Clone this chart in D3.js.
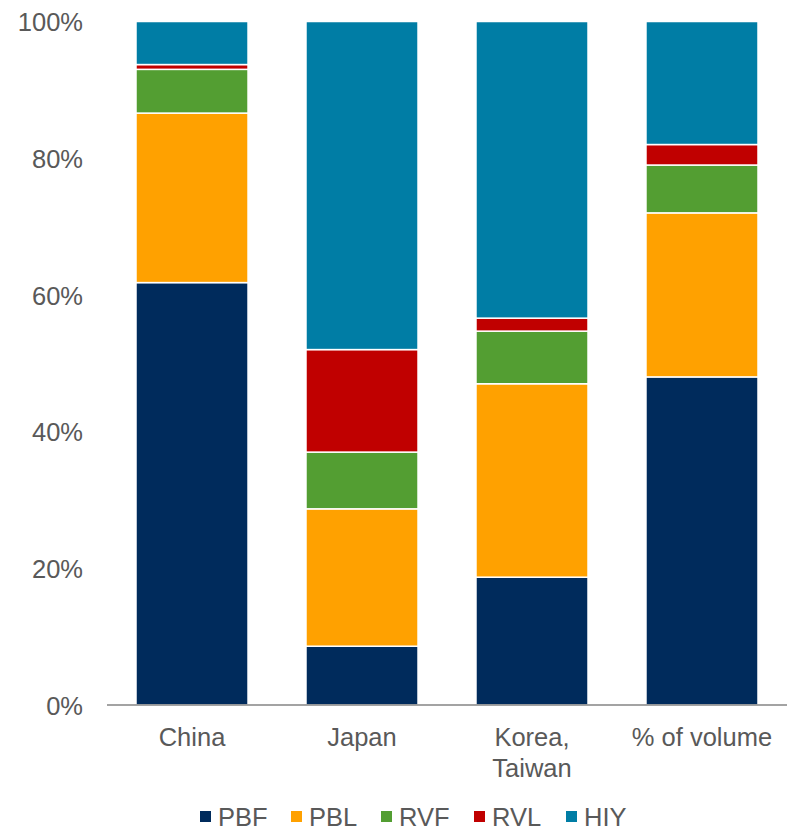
<!DOCTYPE html>
<html>
<head>
<meta charset="utf-8">
<script src="https://cdn.jsdelivr.net/npm/d3@7"></script>
<style>
  html, body { margin: 0; padding: 0; background: #fff; }
  svg { display: block; }
</style>
</head>
<body>
<svg id="chart" width="791" height="832"></svg>
<script>
// Regions on the x axis
const categories = ["China", "Japan", "Korea, Taiwan", "% of volume"];

// Share (%) of each segment per region
const PBF = [61.8, 8.6, 18.7, 48.0];
const PBL = [24.8, 20.1, 28.3, 24.0];
const RVF = [6.4, 8.3, 7.7, 7.0];
const RVL = [0.7, 15.0, 1.9, 3.0];
const HIY = [6.3, 48.0, 43.4, 18.0];

const seriesNames = ["PBF", "PBL", "RVF", "RVL", "HIY"];
const seriesColors = ["#002B5C", "#FFA100", "#539E32", "#C00000", "#007DA5"];
const yTicks = [0, 20, 40, 60, 80, 100];

const values = { PBF, PBL, RVF, RVL, HIY };
const rows = categories.map((c, i) => {
  const r = { category: c };
  seriesNames.forEach(s => { r[s] = values[s][i]; });
  return r;
});

const svg = d3.select("#chart");
const font = "'Liberation Sans', Arial, sans-serif";
const textColor = "#595959";

const x = d3.scaleBand()
  .domain(categories)
  .range([107, 787])
  .paddingInner(0.341)
  .paddingOuter(0.1706);

const y = d3.scaleLinear().domain([0, 100]).range([705, 21.5]);

const color = d3.scaleOrdinal().domain(seriesNames).range(seriesColors);

const stacked = d3.stack().keys(seriesNames)(rows);

// Stacked bars
svg.append("g")
  .selectAll("g")
  .data(stacked)
  .join("g")
  .attr("fill", d => color(d.key))
  .selectAll("rect")
  .data(d => d)
  .join("rect")
  .attr("x", d => x(d.data.category))
  .attr("width", x.bandwidth())
  .attr("y", d => y(d[1]))
  .attr("height", d => y(d[0]) - y(d[1]))
  .attr("stroke", "#fff")
  .attr("stroke-width", 1.5);

// Y axis labels (no axis line)
const yAxis = d3.axisLeft(y)
  .tickValues(yTicks)
  .tickFormat(d => d + "%")
  .tickSize(0)
  .tickPadding(0);

svg.append("g")
  .attr("transform", "translate(83,0)")
  .call(yAxis)
  .call(g => g.select(".domain").remove())
  .call(g => g.selectAll("text")
    .attr("font-family", font)
    .attr("font-size", 25.5)
    .attr("fill", textColor)
    .attr("dy", "0.36em"));

// X axis baseline and labels
const xAxis = d3.axisBottom(x).tickSize(0).tickFormat("");
svg.append("g")
  .attr("transform", `translate(0,${y(0)})`)
  .call(xAxis)
  .call(g => g.select(".domain")
    .attr("stroke", "#858585")
    .attr("stroke-width", 1.5)
    .attr("d", "M107,0H787"));

const labels = svg.append("g");
categories.forEach(c => {
  const lines = c.includes(", ") ? c.split(", ").map((t, i, a) => i < a.length - 1 ? t + "," : t) : [c];
  const t = labels.append("text")
    .attr("x", x(c) + x.bandwidth() / 2)
    .attr("y", 746)
    .attr("text-anchor", "middle")
    .attr("font-family", font)
    .attr("font-size", 25.5)
    .attr("fill", textColor);
  lines.forEach((ln, i) => {
    t.append("tspan")
      .attr("x", x(c) + x.bandwidth() / 2)
      .attr("dy", i === 0 ? 0 : 30.5)
      .text(ln);
  });
});

// Legend
const legendX = [200, 291, 381, 474, 566];
const legend = svg.append("g");
seriesNames.forEach((s, i) => {
  const g = legend.append("g").attr("transform", `translate(${legendX[i]},0)`);
  g.append("rect")
    .attr("x", 0).attr("y", 811)
    .attr("width", 11).attr("height", 11)
    .attr("fill", color(s));
  g.append("text")
    .attr("x", 18).attr("y", 826)
    .attr("font-family", font)
    .attr("font-size", 25.5)
    .attr("fill", textColor)
    .text(s);
});
</script>
</body>
</html>
